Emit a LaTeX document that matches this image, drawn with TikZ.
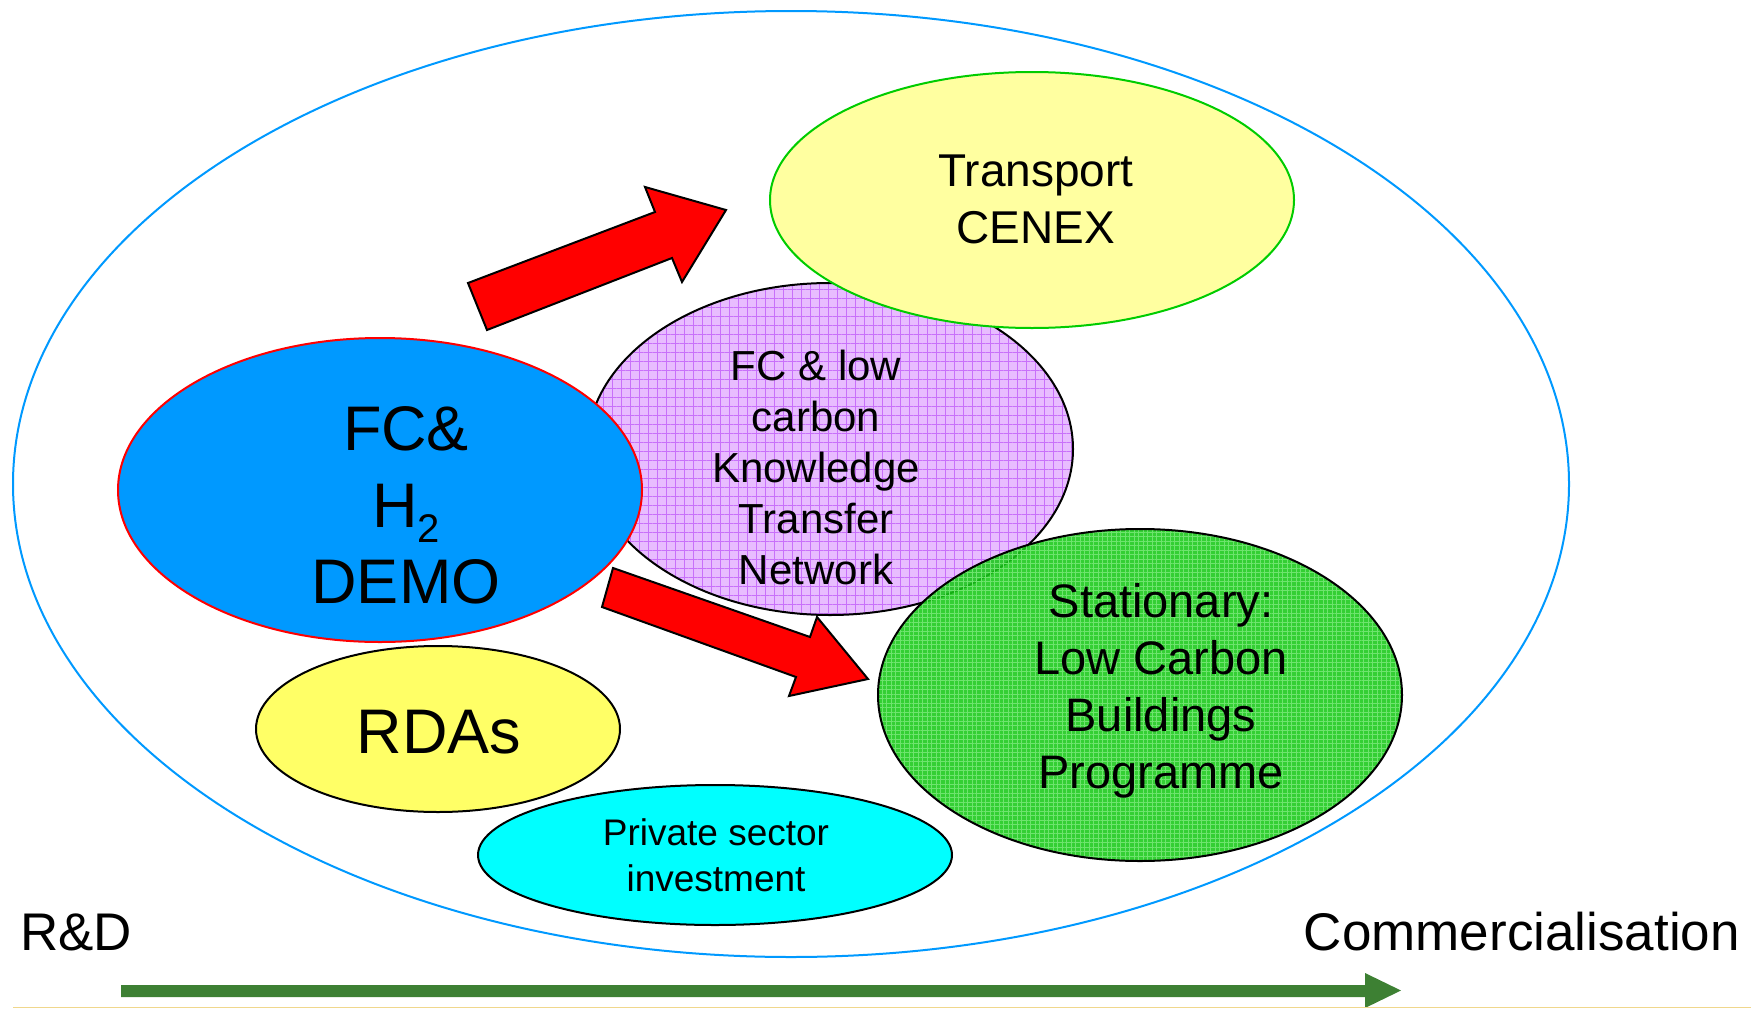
\documentclass[tikz,border=0pt]{standalone}
\usepackage{fontspec}
\setmainfont{Liberation Sans}
\usetikzlibrary{shapes.geometric,patterns.meta}

\definecolor{ringblue}{RGB}{0,153,255}
\definecolor{demoblue}{RGB}{0,153,255}
\definecolor{lilac}{RGB}{232,188,255}
\definecolor{lilacline}{RGB}{200,112,250}
\definecolor{leafgreen}{RGB}{24,200,24}
\definecolor{leafline}{RGB}{110,228,110}
\definecolor{paleyellow}{RGB}{255,255,160}
\definecolor{rdayellow}{RGB}{255,255,102}
\definecolor{edgegreen}{RGB}{0,204,0}
\definecolor{aqua}{RGB}{0,255,255}
\definecolor{timeline}{RGB}{61,128,51}
\definecolor{rule}{RGB}{240,215,140}

\begin{document}
\begin{tikzpicture}[x=1pt,y=-1pt,
  blob/.style={ellipse, inner sep=0pt, outer sep=0pt, line width=2pt},
  txt/.style={inner sep=0pt, outer sep=0pt, align=center, anchor=north},
  blockarrow/.style={fill=red, draw=black, line width=2pt, line join=miter},
]
\useasboundingbox (0,0) rectangle (1751,1009);

% outer frame
\node[blob, draw=ringblue, minimum width=1556pt, minimum height=946pt] (ring) at (791,484) {};

% knowledge transfer network (grid pattern, outline on top)
\node[blob, fill=lilac, minimum width=486pt, minimum height=332pt,
      postaction={pattern={Hatch[angle=0,distance=9pt,line width=0.9pt]}, pattern color=lilacline},
      postaction={draw=black, line width=2pt}]
      (ktn) at (830,449) {};

% transport
\node[blob, draw=edgegreen, fill=paleyellow, minimum width=524pt, minimum height=256pt]
      (transport) at (1032,200) {};

% stationary
\node[blob, fill=leafgreen, fill opacity=0.88, minimum width=524pt, minimum height=332pt,
      postaction={pattern={Hatch[angle=0,distance=4.5pt,line width=0.6pt]}, pattern color=leafline},
      postaction={draw=black, line width=2pt, draw opacity=1}]
      (stationary) at (1140,695) {};

% FC & H2 demo
\node[blob, draw=red, fill=demoblue, minimum width=524pt, minimum height=304pt]
      (demo) at (380,490) {};

% RDAs
\node[blob, draw=black, fill=rdayellow, minimum width=364pt, minimum height=166pt]
      (rdas) at (438,729) {};

% private sector
\node[blob, draw=black, fill=aqua, minimum width=474pt, minimum height=140pt]
      (private) at (715,855) {};

% block arrows
\path[blockarrow] (487,330) -- (468,283) -- (655,212) -- (645,187) -- (726,210)
      -- (682,282) -- (672,258) -- cycle;
\path[blockarrow] (613,568) -- (810,637) -- (817,617) -- (868,679) -- (789,696)
      -- (796,677) -- (602,607) -- cycle;

% timeline arrow and base rule
\fill[timeline] (121,985) -- (1365,985) -- (1365,973) -- (1401,990.5) -- (1365,1008)
      -- (1365,997) -- (121,997) -- cycle;
\draw[rule, line width=1.5pt] (13,1007.5) -- (1751,1007.5);

% texts
\node[txt, font=\fontsize{46}{57}\selectfont] (transporttext) at (1036,155) {Transport\\CENEX};
\node[txt, font=\fontsize{42}{51}\selectfont] (ktntext) at (816,350)
      {FC \& low\\carbon\\Knowledge\\Transfer\\Network};
\node[txt, font=\fontsize{47}{57}\selectfont] (stationarytext) at (1161,583)
      {Stationary:\\Low Carbon\\Buildings\\Programme};
\node[txt, font=\fontsize{63}{76.5}\selectfont] (demotext) at (406,407)
      {FC\&\\H\raisebox{-15pt}{\fontsize{40}{48}\selectfont 2}\\DEMO};
\node[inner sep=0pt, anchor=base, font=\fontsize{63}{76}\selectfont] (rdastext) at (439,753) {RDAs};
\node[txt, font=\fontsize{37}{46}\selectfont] (privatetext) at (716,818.5)
      {Private sector\\investment};
\node[inner sep=0pt, anchor=base west, font=\fontsize{53}{64}\selectfont] (rd) at (20,950) {R\&D};
\node[inner sep=0pt, anchor=base east, font=\fontsize{53}{64}\selectfont] (comm) at (1740,950) {Commercialisation};
\end{tikzpicture}
\end{document}
